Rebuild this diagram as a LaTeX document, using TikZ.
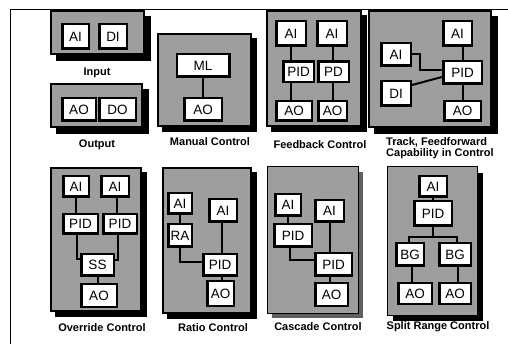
\documentclass[tikz,border=0pt]{standalone}
\usepackage{fontspec}
\setmainfont{Liberation Sans}
\usetikzlibrary{calc}
\definecolor{pgray}{RGB}{158,158,158}
\definecolor{sgray}{RGB}{95,95,95}
\pgfdeclarelayer{panels}
\pgfdeclarelayer{wires}
\pgfsetlayers{panels,wires,main}
\newcommand\bxn[6]{\node[bx, minimum width={#4pt-2.5pt}, minimum height={#5pt-2.5pt}] (#1) at (#2,#3) {#6};}
\newcommand\pnl[5]{\begin{pgfonlayer}{panels}\fill[black] (#1+#5,#2+#5) rectangle (#3+#5,#4+#5);\draw[panel] (#1+1,#2+1) rectangle (#3-1,#4-1);\end{pgfonlayer}}
\begin{document}
\begin{tikzpicture}[x=1pt,y=-1pt,
  panel/.style={fill=pgray, draw=black, line width=2pt},
  bx/.style={draw=black, fill=white, line width=2.5pt, inner sep=0pt, font=\fontsize{13.5}{14}\selectfont},
  wire/.style={line width=2pt, line join=miter},
  lbl/.style={inner sep=0pt, font=\fontsize{11}{11}\selectfont\bfseries}]
\useasboundingbox (0,0) rectangle (508,344);
\begin{pgfonlayer}{panels}
\fill[white] (0,0) rectangle (508,344);
\draw[line width=1pt] (508,10) -- (10.5,10) -- (10.5,344);
\end{pgfonlayer}

% ---------- Input ----------
\pnl{50}{10}{145}{55}{6}
\bxn{iAI}{75.5}{36.5}{29}{27}{AI}
\bxn{iDI}{113}{36.5}{30}{27}{DI}
\node[lbl] (lIn) at (97,73) {Input};

% ---------- Output ----------
\pnl{50}{83}{143}{128}{6}
\bxn{oAOa}{79}{109.5}{36}{25}{AO}
\bxn{oDO}{117.5}{109.5}{39}{25}{DO}
\node[lbl] (lOut) at (97,145) {Output};

% ---------- Manual ----------
\pnl{157}{33}{252}{127}{5}
\bxn{mML}{203}{65.5}{55}{25}{ML}
\bxn{mAO}{203}{109.5}{40}{25}{AO}
\begin{pgfonlayer}{wires}
\draw[wire] (mML) -- (mAO);
\end{pgfonlayer}
\node[lbl] (lMan) at (210,142) {Manual Control};

% ---------- Feedback ----------
\pnl{266}{10}{362}{127}{5}
\bxn{fAIa}{291}{33.5}{32}{27}{AI}
\bxn{fAIb}{332}{33.5}{32}{27}{AI}
\bxn{fPID}{298.5}{72}{33}{23}{PID}
\bxn{fPD}{333.5}{72}{33}{23}{PD}
\bxn{fAOa}{294}{111}{38}{22}{AO}
\bxn{fAOb}{332.5}{111}{31}{22}{AO}
\begin{pgfonlayer}{wires}
\draw[wire] (fAIa.south) -- (fAIa.south |- fAOa.north);
\draw[wire] ([xshift=1pt]fAIb.south) -- ([xshift=1pt]fAIb.south |- fAOb.north);
\end{pgfonlayer}
\node[lbl] (lFb) at (320,145) {Feedback Control};

% ---------- Track / Feedforward ----------
\pnl{368}{10}{492}{128}{6}
\bxn{tAIr}{457.5}{33.5}{31}{27}{AI}
\bxn{tAIl}{396}{54.5}{32}{25}{AI}
\bxn{tPID}{462.5}{72.5}{41}{25}{PID}
\bxn{tDI}{396}{93.5}{32}{27}{DI}
\bxn{tAO}{462.5}{111}{39}{22}{AO}
\begin{pgfonlayer}{wires}
\draw[wire] (tPID.north) -- (tPID.north |- tAIr.south);
\draw[wire] (tPID.south) -- (tAO.north);
\draw[wire] (tAIl.east) -- ++(8,0) |- ([yshift=2.5pt]tPID.west);
\draw[wire] ([yshift=8.5pt]tDI.east) -- ([yshift=-4.5pt]tPID.west);
\end{pgfonlayer}
\node[lbl, anchor=west, align=left, font=\fontsize{11}{11}\selectfont\bfseries] (lTr) at (386,148.5) {Track, Feedforward\\Capability in Control};

% ---------- Override ----------
\pnl{50}{167}{142}{312}{5}
\bxn{vAIa}{76}{186.5}{28}{23}{AI}
\bxn{vAIb}{115}{186.5}{30}{23}{AI}
\bxn{vPIDa}{80.5}{224}{37}{22}{PID}
\bxn{vPIDb}{120}{224}{36}{22}{PID}
\bxn{vSS}{97.5}{265}{35}{24}{SS}
\bxn{vAO}{99}{295.5}{38}{25}{AO}
\begin{pgfonlayer}{wires}
\draw[wire] (vAIa.south) -- (vAIa.south |- vPIDa.north);
\draw[wire] ([xshift=2pt]vAIb.south) -- ([xshift=2pt]vAIb.south |- vPIDb.north);
\draw[wire] ([xshift=-3.5pt]vPIDa.south) |- ([yshift=6pt]vSS.west);
\draw[wire] ([xshift=-2pt]vPIDb.south) |- ([yshift=5pt]vSS.east);
\draw[wire] (vSS.south) -- (vSS.south |- vAO.north);
\end{pgfonlayer}
\node[lbl] (lOv) at (102,328) {Override Control};

% ---------- Ratio ----------
\pnl{162}{167}{252}{314}{5}
\bxn{rAIa}{180}{203.5}{26}{23}{AI}
\bxn{rAIb}{223}{210.5}{30}{25}{AI}
\bxn{rRA}{180}{235.5}{26}{25}{RA}
\bxn{rPID}{220}{265}{36}{24}{PID}
\bxn{rAO}{220.5}{293.5}{29}{27}{AO}
\begin{pgfonlayer}{wires}
\draw[wire] (rAIa) -- (rRA);
\draw[wire] (rRA.south) |- ([yshift=3pt]rPID.west);
\draw[wire] ([xshift=-1pt]rAIb.south) -- ([xshift=-1pt]rAIb.south |- rPID.north);
\draw[wire] ([xshift=1.5pt]rPID.south) -- ([xshift=1.5pt]rPID.south |- rAO.north);
\end{pgfonlayer}
\node[lbl] (lRa) at (213,328) {Ratio Control};

% ---------- Cascade ----------
\begin{pgfonlayer}{panels}
\fill[sgray] (272,172) rectangle (363,318);
\draw[fill=pgray, draw=black, line width=1pt] (267,167) rectangle (358,313);
\end{pgfonlayer}
\bxn{cAIa}{288}{205}{28}{24}{AI}
\bxn{cAIb}{329.5}{211}{31}{24}{AI}
\bxn{cPIDa}{293}{235.5}{40}{25}{PID}
\bxn{cPIDb}{333.5}{264.5}{39}{25}{PID}
\bxn{cAO}{331.5}{294.5}{35}{25}{AO}
\begin{pgfonlayer}{wires}
\draw[wire] (cAIa.south) -- (cAIa.south |- cPIDa.north);
\draw[wire] ([xshift=-3pt]cPIDa.south) |- ([yshift=4.5pt]cPIDb.west);
\draw[wire] (cAIb.south) -- (cAIb.south |- cPIDb.north);
\draw[wire] (cAIb.south |- cPIDb.south) -- (cAIb.south |- cAO.north);
\end{pgfonlayer}
\node[lbl] (lCa) at (318,327) {Cascade Control};

% ---------- Split Range ----------
\begin{pgfonlayer}{panels}
\fill[black] (393,173) rectangle (483,321);
\draw[fill=pgray, draw=black, line width=1pt] (387,167) rectangle (477,315);
\end{pgfonlayer}
\bxn{sAI}{433}{186.5}{30}{23}{AI}
\bxn{sPID}{433}{213.5}{40}{27}{PID}
\bxn{sBGa}{410}{254.5}{30}{25}{BG}
\bxn{sBGb}{455}{254.5}{34}{25}{BG}
\bxn{sAOa}{415}{293.5}{36}{23}{AO}
\bxn{sAOb}{455}{293.5}{34}{23}{AO}
\begin{pgfonlayer}{wires}
\draw[wire] (sAI) -- (sPID);
\draw[wire] (sPID.south) -- ++(0,10) coordinate (sj);
\draw[wire] ([xshift=-1pt]sBGa.north) |- (sj) -| ([xshift=2pt]sBGb.north);
\draw[wire] ([xshift=2pt]sBGa.south) -- ([xshift=2pt]sBGa.south |- sAOa.north);
\draw[wire] ([xshift=3pt]sBGb.south) -- ([xshift=3pt]sBGb.south |- sAOb.north);
\end{pgfonlayer}
\node[lbl] (lSp) at (438,327) {Split Range Control};
\end{tikzpicture}
\end{document}
